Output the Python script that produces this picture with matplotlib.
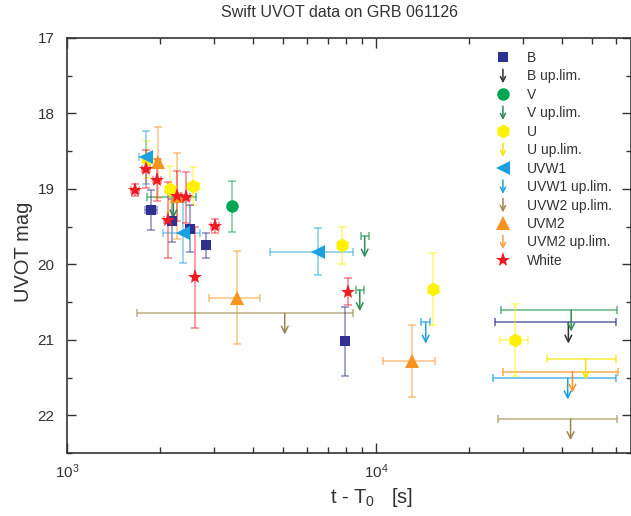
import matplotlib
matplotlib.use('Agg')
import matplotlib.pyplot as plt
import matplotlib.patches as mpatches
from matplotlib.lines import Line2D
from matplotlib.legend_handler import HandlerPatch
from matplotlib.ticker import MultipleLocator

plt.rcParams['font.family'] = ['Liberation Sans', 'DejaVu Sans']
plt.rcParams['mathtext.fontset'] = 'custom'
plt.rcParams['mathtext.rm'] = 'Liberation Sans'
plt.rcParams['mathtext.it'] = 'Liberation Sans:italic'

# detections: time since trigger [s], half exposure [s], mag, mag error
B_t = [1870, 2190, 2500, 2820, 7940]
B_dt = [85, 40, 40, 40, 40]
B_mag = [19.28, 19.42, 19.53, 19.75, 21.02]
B_err = [0.27, 0.28, 0.31, 0.17, 0.46]

V_t = [3430]
V_dt = [0]
V_mag = [19.23]
V_err = [0.34]

U_t = [1810, 2150, 2560, 7750, 15300, 28200]
U_dt = [40, 40, 115, 40, 40, 2900]
U_mag = [18.61, 19.00, 18.96, 19.75, 20.33, 21.00]
U_err = [0.25, 0.30, 0.25, 0.24, 0.48, 0.48]

UVW1_t = [1800, 2370, 6500]
UVW1_dt = [90, 320, 1950]
UVW1_mag = [18.58, 19.58, 19.83]
UVW1_err = [0.35, 0.40, 0.31]

UVM2_t = [1970, 2270, 3550, 13050]
UVM2_dt = [50, 50, 665, 2475]
UVM2_mag = [18.65, 19.09, 20.44, 21.28]
UVM2_err = [0.47, 0.57, 0.62, 0.48]

White_t = [1660, 1800, 1960, 2120, 2275, 2430, 3010, 2600, 8130]
White_dt = [50, 55, 60, 65, 70, 75, 90, 0, 0]
White_mag = [19.01, 18.74, 18.88, 19.41, 19.09, 19.11, 19.49, 20.17, 20.36]
White_err = [0.08, 0.25, 0.28, 0.50, 0.33, 0.34, 0.09, 0.67, 0.18]

# upper limits: time [s], half exposure [s], limiting mag
B_ul_t = [42000]
B_ul_dt = [17700]
B_ul_mag = [20.77]

V_ul_t = [2210, 8870, 9200, 42900]
V_ul_dt = [400, 260, 280, 17500]
V_ul_mag = [19.11, 20.34, 19.63, 20.61]

U_ul_t = [47800]
U_ul_dt = [11900]
U_ul_mag = [21.25]

UVW1_ul_t = [14500, 41800]
UVW1_ul_dt = [490, 17900]
UVW1_ul_mag = [20.77, 21.51]

UVW2_ul_t = [5070, 42700]
UVW2_ul_dt = [3390, 17800]
UVW2_ul_mag = [20.65, 22.05]

UVM2_ul_t = [43300]
UVM2_ul_dt = [17500]
UVM2_ul_mag = [21.42]

NAVY = '#2e3192'
GREEN = '#00a651'
YELLOW = '#fff200'
BLUE = '#1ba1e2'
TAN = '#a8955f'
ORANGE = '#f7931e'
RED = '#ed1c24'

fig = plt.figure(figsize=(6.31, 5.16), dpi=100)
ax = fig.add_axes([0.1062, 0.1221, 0.8938, 0.8043])


def detections(t, dt, mag, err, color, marker, ms, z=4):
    ax.errorbar(t, mag, xerr=dt, yerr=err, fmt='none', ecolor=color, alpha=0.55,
                elinewidth=1.1, capsize=3, capthick=1.1, zorder=2)
    ax.plot(t, mag, linestyle='none', marker=marker, color=color, markersize=ms,
            markeredgewidth=0, zorder=z)


def uplims(t, dt, mag, color, arrow_color):
    ax.errorbar(t, mag, xerr=dt, fmt='none', ecolor=color, alpha=0.65,
                elinewidth=1.3, capsize=3, capthick=1.3, zorder=2)
    for x, m in zip(t, mag):
        ax.annotate('', xy=(x, m + 0.28), xytext=(x, m),
                    arrowprops=dict(arrowstyle='->', color=arrow_color, lw=1.1,
                                    shrinkA=0, shrinkB=0, mutation_scale=12),
                    zorder=3)


uplims(UVW2_ul_t, UVW2_ul_dt, UVW2_ul_mag, TAN, '#9c8652')
uplims(B_ul_t, B_ul_dt, B_ul_mag, NAVY, '#333333')
uplims(V_ul_t, V_ul_dt, V_ul_mag, '#2e9e5b', '#2e8b57')
uplims(U_ul_t, U_ul_dt, U_ul_mag, '#f5e700', '#f5e700')
uplims(UVW1_ul_t, UVW1_ul_dt, UVW1_ul_mag, BLUE, BLUE)
uplims(UVM2_ul_t, UVM2_ul_dt, UVM2_ul_mag, ORANGE, ORANGE)

detections(UVM2_t, UVM2_dt, UVM2_mag, UVM2_err, ORANGE, '^', 10)
detections(U_t, U_dt, U_mag, U_err, YELLOW, 'h', 10)
detections(V_t, V_dt, V_mag, V_err, GREEN, 'o', 9)
detections(B_t, B_dt, B_mag, B_err, NAVY, 's', 7.5)
detections(UVW1_t, UVW1_dt, UVW1_mag, UVW1_err, BLUE, '<', 10)
detections(White_t, White_dt, White_mag, White_err, RED, '*', 11, z=5)

ax.set_xscale('log')
ax.set_xlim(1000, 67000)
ax.set_ylim(22.5, 17)
ax.yaxis.set_major_locator(MultipleLocator(1))
ax.yaxis.set_minor_locator(MultipleLocator(0.5))
ax.tick_params(which='both', direction='in', top=True, right=True,
               labelsize=11, labelcolor='#333333', color='#333333')
ax.tick_params(axis='x', which='major', length=7, width=1.0, pad=7)
ax.tick_params(axis='x', which='minor', length=4, width=1.0)
ax.tick_params(axis='y', which='major', length=6.5, width=1.0, pad=9)
ax.tick_params(axis='y', which='minor', length=3.5, width=1.0)
for s in ax.spines.values():
    s.set_linewidth(1.2)
    s.set_color('#333333')

ax.set_title('Swift UVOT data on GRB 061126', fontsize=11.5, color='#333333',
             x=0.484, pad=15)
ax.set_ylabel('UVOT mag', fontsize=14.5, color='#333333')
ax.yaxis.set_label_coords(-0.06, 0.484)
ax.set_xlabel(r't - T$_{0}$   [s]', fontsize=14.5, color='#333333')
ax.xaxis.set_label_coords(0.54, -0.08)


class UpLimHandle(mpatches.Patch):
    pass


def make_arrow(legend, orig_handle, xdescent, ydescent, width, height, fontsize):
    cx = -xdescent + width / 2
    return mpatches.FancyArrowPatch((cx, -ydescent + height + 3), (cx, -ydescent - 4),
                                    arrowstyle='->', mutation_scale=9)


def dot(marker, color, ms):
    return Line2D([], [], linestyle='none', marker=marker, color=color,
                  markersize=ms, markeredgewidth=0)


def arrow(color):
    return UpLimHandle(edgecolor=color, facecolor='none', linewidth=1.1)


handles = [dot('s', NAVY, 7.5), arrow('#333333'), dot('o', GREEN, 9), arrow('#2e8b57'),
           dot('h', YELLOW, 10), arrow('#f5e700'), dot('<', BLUE, 10), arrow(BLUE),
           arrow('#9c8652'), dot('^', ORANGE, 10), arrow('#f9a04a'), dot('*', RED, 11)]
labels = ['B', 'B up.lim.', 'V', 'V up.lim.', 'U', 'U up.lim.', 'UVW1',
          'UVW1 up.lim.', 'UVW2 up.lim.', 'UVM2', 'UVM2 up.lim.', 'White']
leg = ax.legend(handles, labels, loc='upper left', bbox_to_anchor=(0.7606, 0.9687),
                frameon=False, fontsize=10, borderaxespad=0, borderpad=0,
                handlelength=1.0, handletextpad=1.2, labelspacing=0.32,
                handler_map={UpLimHandle: HandlerPatch(patch_func=make_arrow)})
for txt in leg.get_texts():
    txt.set_color('#333333')

fig.savefig('out.png', dpi=100)
